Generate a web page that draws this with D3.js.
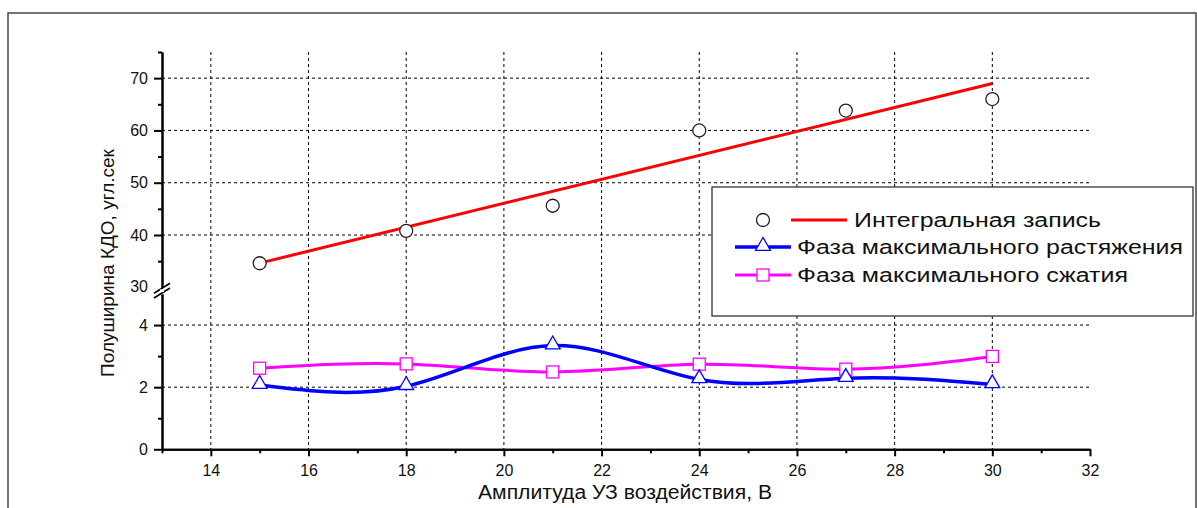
<!DOCTYPE html>
<html>
<head>
<meta charset="utf-8">
<script src="https://cdn.jsdelivr.net/npm/d3@7"></script>
<style>
  body { margin: 0; background: #fff; }
  svg { display: block; font-family: "Liberation Sans", Arial, sans-serif; }
</style>
</head>
<body>
<svg id="chart" width="1197" height="508"></svg>
<script>
// data
const amplitude = [15, 18, 21, 24, 27, 30]
const integral = [34.6, 40.8, 45.6, 60.0, 63.8, 66.0]
const stretch = [2.07, 2.03, 3.34, 2.25, 2.29, 2.09]
const compress = [2.61, 2.75, 2.49, 2.74, 2.58, 2.99]

const xMajor = [14, 16, 18, 20, 22, 24, 26, 28, 30, 32]
const xMinor = [13, 15, 17, 19, 21, 23, 25, 27, 29, 31]
const yTopMajor = [40, 50, 60, 70]
const yTopMinor = [35, 45, 55, 65, 75]
const yBotMajor = [0, 2, 4]
const yBotMinor = [1, 3]

const legendLabels = ["Интегральная запись", "Фаза максимального растяжения", "Фаза максимального сжатия"]
const xTitle = "Амплитуда УЗ воздействия, В"
const yTitle = "Полуширина КДО, угл.сек"

const svg = d3.select("#chart")

// outer frame (cut off at the bottom)
svg.append("rect")
  .attr("x", 8).attr("y", 13)
  .attr("width", 1188).attr("height", 520)
  .attr("fill", "none").attr("stroke", "#444").attr("stroke-width", 1.5)

const x = d3.scaleLinear().domain([13, 32]).range([162, 1090])
const yTop = d3.scaleLinear().domain([30, 75]).range([287.3, 52])
const yBot = d3.scaleLinear().domain([0, 5]).range([449.3, 294])

// grid
const grid = svg.append("g")
  .attr("stroke", "#000").attr("stroke-width", 1).attr("stroke-dasharray", "3,3")
grid.selectAll(".vg").data(xMajor.filter(d => d > 13 && d < 32)).join("line")
  .attr("x1", d => x(d)).attr("x2", d => x(d))
  .attr("y1", yTop(75)).attr("y2", yBot(0))
grid.selectAll(".hgt").data(yTopMajor).join("line")
  .attr("x1", x(13)).attr("x2", x(32))
  .attr("y1", d => yTop(d)).attr("y2", d => yTop(d))
grid.selectAll(".hgb").data(yBotMajor.filter(d => d > 0)).join("line")
  .attr("x1", x(13)).attr("x2", x(32))
  .attr("y1", d => yBot(d)).attr("y2", d => yBot(d))

// axes
const axisStyle = g => {
  g.selectAll("path, line").attr("stroke", "#000").attr("stroke-width", 2)
  g.selectAll("text").attr("fill", "#111").attr("font-size", 16)
    .attr("font-family", "Liberation Sans, Arial, sans-serif")
}
const fmt = d3.format("d")

svg.append("g").attr("transform", `translate(0,${yBot(0)})`)
  .call(d3.axisBottom(x).tickValues(xMajor).tickSize(7).tickSizeOuter(0).tickPadding(8).tickFormat(fmt))
  .call(axisStyle)
svg.append("g").attr("transform", `translate(0,${yBot(0)})`)
  .call(d3.axisBottom(x).tickValues(xMinor).tickSize(4).tickSizeOuter(0).tickFormat(""))
  .call(axisStyle)

svg.append("g").attr("transform", `translate(${x(13)},0)`)
  .call(d3.axisLeft(yTop).tickValues(yTopMajor).tickSize(8).tickSizeOuter(0).tickPadding(6).tickFormat(fmt))
  .call(axisStyle)
svg.append("g").attr("transform", `translate(${x(13)},0)`)
  .call(d3.axisLeft(yTop).tickValues(yTopMinor).tickSize(4).tickSizeOuter(0).tickFormat(""))
  .call(axisStyle)
svg.append("g").attr("transform", `translate(${x(13)},0)`)
  .call(d3.axisLeft(yBot).tickValues(yBotMajor).tickSize(8).tickSizeOuter(0).tickPadding(6).tickFormat(fmt))
  .call(axisStyle)
svg.append("g").attr("transform", `translate(${x(13)},0)`)
  .call(d3.axisLeft(yBot).tickValues(yBotMinor).tickSize(4).tickSizeOuter(0).tickFormat(""))
  .call(axisStyle)

// "30" label at the break
svg.append("text")
  .attr("x", x(13) - 14).attr("y", yTop(30)).attr("dy", "0.32em")
  .attr("text-anchor", "end").attr("font-size", 16).attr("fill", "#111")
  .text("30")

// break marks
const brk = svg.append("g").attr("stroke", "#000").attr("stroke-width", 1.6)
;[yTop(30) + 1, yBot(5) - 1].forEach(yy => {
  brk.append("line").attr("x1", x(13) - 8).attr("y1", yy + 5).attr("x2", x(13) + 8).attr("y2", yy - 5)
})
svg.append("rect").attr("x", x(13) - 2).attr("y", yTop(30) + 2).attr("width", 4)
  .attr("height", yBot(5) - yTop(30) - 4).attr("fill", "#fff")

// axis titles
svg.append("text")
  .attr("x", 478).attr("y", 492).attr("dy", "0.35em")
  .attr("font-size", 20).attr("fill", "#111")
  .attr("textLength", 294).attr("lengthAdjust", "spacingAndGlyphs")
  .text(xTitle)
svg.append("text")
  .attr("transform", "translate(107,263) rotate(-90)")
  .attr("dy", "0.35em")
  .attr("text-anchor", "middle").attr("font-size", 19).attr("fill", "#111")
  .text(yTitle)

// linear fit for the integral series
const mx = d3.mean(amplitude), my = d3.mean(integral)
const slope = d3.sum(amplitude, (a, i) => (a - mx) * (integral[i] - my)) /
  d3.sum(amplitude, a => (a - mx) * (a - mx))
const fit = a => my + slope * (a - mx)
const xMin = d3.min(amplitude), xMax = d3.max(amplitude)

svg.append("line")
  .attr("x1", x(xMin)).attr("y1", yTop(fit(xMin)))
  .attr("x2", x(xMax)).attr("y2", yTop(fit(xMax)))
  .attr("stroke", "#ff0000").attr("stroke-width", 3)

const spline = d3.line().curve(d3.curveNatural)
  .x(d => x(d[0])).y(d => yBot(d[1]))

svg.append("path")
  .attr("d", spline(amplitude.map((a, i) => [a, compress[i]])))
  .attr("fill", "none").attr("stroke", "#ff00ff").attr("stroke-width", 3)
svg.append("path")
  .attr("d", spline(amplitude.map((a, i) => [a, stretch[i]])))
  .attr("fill", "none").attr("stroke", "#0000ff").attr("stroke-width", 3.5)

// markers
const triangle = d3.symbol().type(d3.symbolTriangle).size(95)
svg.selectAll(".circ").data(amplitude).join("circle")
  .attr("cx", d => x(d)).attr("cy", (d, i) => yTop(integral[i])).attr("r", 6.5)
  .attr("fill", "#fff").attr("stroke", "#222").attr("stroke-width", 1.3)
svg.selectAll(".sq").data(amplitude).join("rect")
  .attr("x", d => x(d) - 6).attr("y", (d, i) => yBot(compress[i]) - 6)
  .attr("width", 12).attr("height", 12)
  .attr("fill", "#fff").attr("stroke", "#ff00ff").attr("stroke-width", 1.3)
svg.selectAll(".tri").data(amplitude).join("path")
  .attr("d", triangle)
  .attr("transform", (d, i) => `translate(${x(d)},${yBot(stretch[i]) - 1})`)
  .attr("fill", "#fff").attr("stroke", "#0000ff").attr("stroke-width", 1.3)

// legend
const lg = svg.append("g")
lg.append("rect").attr("x", 712).attr("y", 187).attr("width", 481).attr("height", 129)
  .attr("fill", "#fff").attr("stroke", "#333").attr("stroke-width", 1.3)

lg.append("circle").attr("cx", 763).attr("cy", 220).attr("r", 6.5)
  .attr("fill", "#fff").attr("stroke", "#222").attr("stroke-width", 1.3)
lg.append("line").attr("x1", 791).attr("x2", 847).attr("y1", 220).attr("y2", 220)
  .attr("stroke", "#ff0000").attr("stroke-width", 3)

lg.append("line").attr("x1", 735).attr("x2", 791).attr("y1", 247).attr("y2", 247)
  .attr("stroke", "#0000ff").attr("stroke-width", 3.5)
lg.append("path").attr("d", triangle).attr("transform", "translate(763,246)")
  .attr("fill", "#fff").attr("stroke", "#0000ff").attr("stroke-width", 1.3)

lg.append("line").attr("x1", 735).attr("x2", 791).attr("y1", 275).attr("y2", 275)
  .attr("stroke", "#ff00ff").attr("stroke-width", 3)
lg.append("rect").attr("x", 757).attr("y", 269).attr("width", 12).attr("height", 12)
  .attr("fill", "#fff").attr("stroke", "#ff00ff").attr("stroke-width", 1.3)

const legendPos = [[854, 220, 247], [797, 247, 386], [797, 275, 331]]
lg.selectAll(".lt").data(legendLabels).join("text")
  .attr("x", (d, i) => legendPos[i][0]).attr("y", (d, i) => legendPos[i][1])
  .attr("dy", "0.35em").attr("font-size", 20).attr("fill", "#111")
  .attr("textLength", (d, i) => legendPos[i][2]).attr("lengthAdjust", "spacingAndGlyphs")
  .text(d => d)
</script>
</body>
</html>
